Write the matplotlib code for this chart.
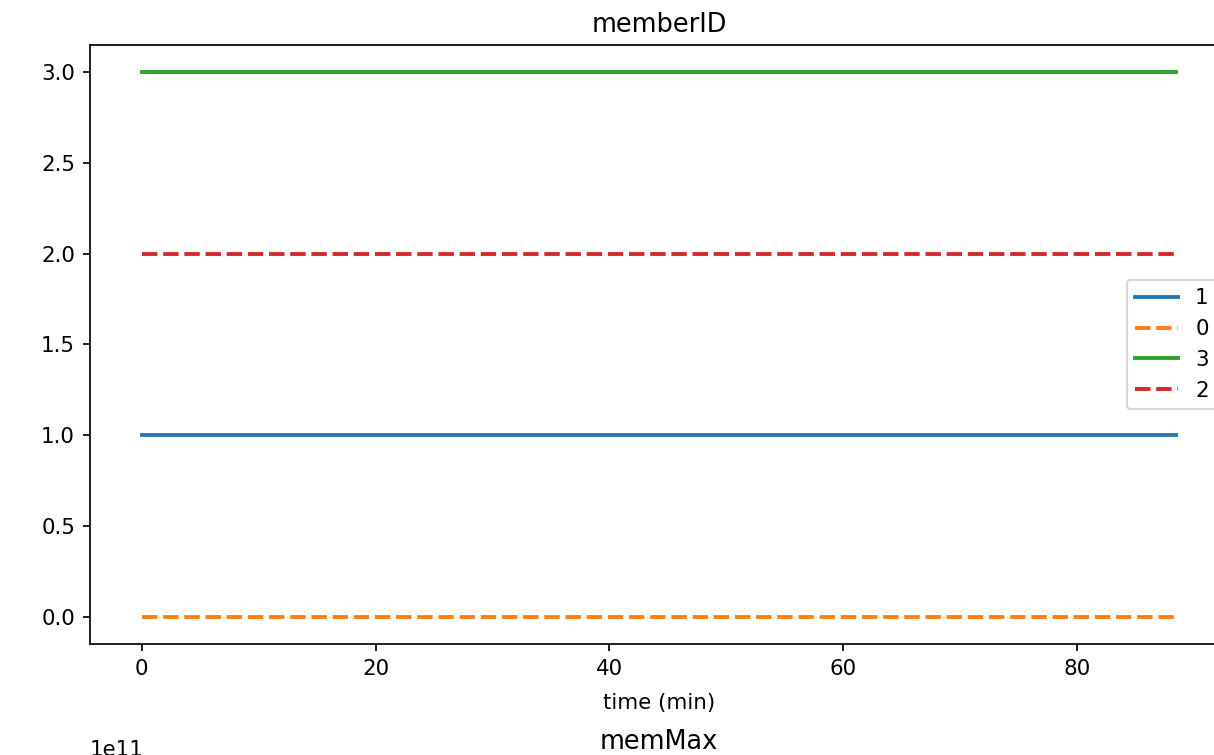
import matplotlib
matplotlib.use("Agg")
import matplotlib.pyplot as plt

# minutes since start
time_min = [0.0, 10.0, 20.0, 30.0, 40.0, 50.0, 60.0, 70.0, 80.0, 88.5]

member_ids = ["1", "0", "3", "2"]
member_values = {
    "1": [1.0] * len(time_min),
    "0": [0.0] * len(time_min),
    "3": [3.0] * len(time_min),
    "2": [2.0] * len(time_min),
}
mem_max_values = {
    "1": [1.3e11] * len(time_min),
    "0": [1.3e11] * len(time_min),
    "3": [1.3e11] * len(time_min),
    "2": [1.3e11] * len(time_min),
}
dashes = {"1": (None, None), "0": (4, 1.5), "3": (None, None), "2": (4, 1.5)}
colors = {"1": "C0", "0": "C1", "3": "C2", "2": "C3"}

dpi = 154
fig = plt.figure(figsize=(1214 / dpi, 755 / dpi), dpi=dpi)
W, H = 1214, 755


def draw(ax, values):
    for m in member_ids:
        line, = ax.plot(time_min, values[m], color=colors[m], lw=1.8, label=m)
        if dashes[m][0] is not None:
            line.set_dashes(dashes[m])


ax = fig.add_axes([90 / W, 1 - 644 / H, (1228 - 90) / W, (644 - 45) / H])
draw(ax, member_values)
ax.set_title("memberID")
ax.set_xlabel("time (min)", labelpad=6.5)
ax.legend(loc="center right")

# next panel of the grid, only its top edge shows
ax2 = fig.add_axes([90 / W, 1 - 1300 / H, (1228 - 90) / W, (1300 - 762) / H])
draw(ax2, mem_max_values)
ax2.set_ylim(0, 1.5e11)
ax2.tick_params(labelbottom=False)
ax2.set_title("memMax")

fig.savefig("out.png", dpi=dpi)
